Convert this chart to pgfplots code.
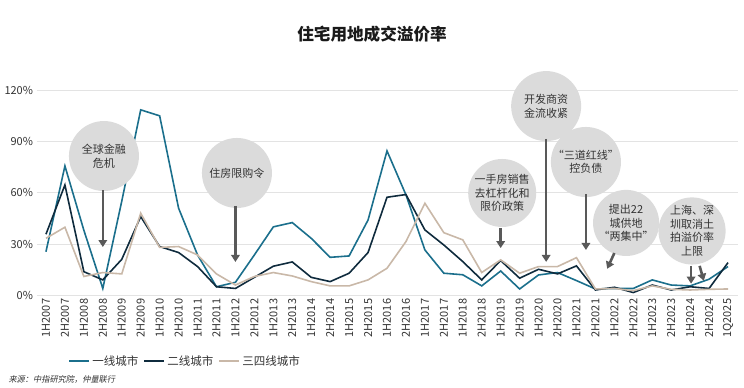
\documentclass[border=0pt]{standalone}
\usepackage{fontspec}
\setmainfont{Noto Sans CJK SC}
\newfontfamily\srcfont{Noto Sans CJK SC}[FakeSlant=0.2]
\usepackage{pgfplots}
\pgfplotsset{compat=1.18}
\usepackage{pgfplotstable}
\usetikzlibrary{arrows.meta}
\definecolor{tone}{HTML}{1B6F8C}
\definecolor{ttwo}{HTML}{0F2B3D}
\definecolor{tthree}{HTML}{C9B8A8}
\definecolor{bubble}{HTML}{DBDBDB}
\definecolor{arrowc}{HTML}{595959}
\definecolor{txt}{HTML}{333333}
\definecolor{gridc}{HTML}{E3E3E3}

\pgfplotstableread{
idx t1 t2 t3
0 25.5 35.7 33.3
1 75.6 64.5 39.8
2 38 13.8 11
3 4 9 13.3
4 55 21 12.5
5 108.4 46 48
6 104.9 28.5 28
7 50.9 25 28.5
8 23.6 16.8 23.6
9 5 5 12.5
10 7.6 4 6
11 23.6 10.5 11
12 40 17 13.3
13 42.5 19.5 11.3
14 33.3 10.5 8
15 22.2 8 5.5
16 23 12.9 5.5
17 44 25 9
18 84.4 57.3 15.8
19 58.7 58.9 31.4
20 26.5 38.2 53.8
21 12.9 29.4 36.6
22 12 19.7 32.4
23 5.5 9 13.3
24 14.2 20.3 20.7
25 3.7 10 12.9
26 11.9 15.2 16.8
27 13.3 12.5 16.8
28 8.6 17.2 22
29 3.7 3.1 3.7
30 4 4.7 4
31 4 1.6 2.7
32 9 6 5.5
33 6 3.1 3.5
34 5.5 5 3.1
35 9.4 4 3.5
36 16.8 19.1 3.7
}\datatable

\begin{document}
\begin{tikzpicture}
\useasboundingbox (0,0) rectangle (744pt,388pt);
\node[font=\fontsize{16.6}{18}\selectfont\bfseries, text=black!90] at (372pt,354pt) {住宅用地成交溢价率};
\node[anchor=west, font=\fontsize{8.2}{10}\srcfont, text=txt] at (5pt,9pt) {来源：中指研究院，仲量联行};
\begin{axis}[
  at={(36.5pt,92.7pt)}, anchor=south west,
  scale only axis, width=701pt, height=205.3pt,
  xmin=-0.5, xmax=36.5, ymin=0, ymax=120,
  clip=false,
  axis line style={draw=none},
  major tick style={draw=none},
  ymajorgrids, grid style={gridc, line width=0.8pt},
  ytick={0,30,60,90,120},
  yticklabel={\pgfmathprintnumber{\tick}\%},
  /pgf/number format/assume math mode=true,
  xtick={0,...,36},
  xticklabels={1H2007,2H2007,1H2008,2H2008,1H2009,2H2009,1H2010,2H2010,1H2011,2H2011,1H2012,2H2012,1H2013,2H2013,1H2014,2H2014,1H2015,2H2015,1H2016,2H2016,1H2017,2H2017,1H2018,2H2018,1H2019,2H2019,1H2020,2H2020,1H2021,2H2021,1H2022,2H2022,1H2023,2H2023,1H2024,2H2024,1Q2025},
  xticklabel style={rotate=90, anchor=east, font=\fontsize{11}{13}\selectfont, text=txt},
  yticklabel style={font=\fontsize{11}{13}\selectfont, text=txt},
  legend style={at={(0.212,-0.32)}, anchor=center, draw=none, fill=none,
    font=\fontsize{11.5}{13}\selectfont, text=txt,
    /tikz/every even column/.append style={column sep=3pt}},
  legend columns=3,
  legend image code/.code={\draw[#1, line width=2pt] (0pt,0pt) -- (20pt,0pt);},
]
\addplot[tone, line width=1.6pt] table[x=idx, y=t1] {\datatable};
\addlegendentry{一线城市}
\addplot[ttwo, line width=1.6pt] table[x=idx, y=t2] {\datatable};
\addlegendentry{二线城市}
\addplot[tthree, line width=1.6pt] table[x=idx, y=t3] {\datatable};
\addlegendentry{三四线城市}

\tikzset{bub/.style={circle, fill=bubble, inner sep=0pt, align=center, text=txt, font=\fontsize{11}{13.5}\selectfont},
  arr/.style={arrowc, line width=2.6pt, -{Triangle[length=7pt,width=8.5pt]}}}
\node[bub, minimum size=70pt] at (axis cs:3.06,81.4) {全球金融\\危机};
\draw[arr] (axis cs:3,61.5) -- (axis cs:3,28.2);
\node[bub, minimum size=70pt] at (axis cs:10.08,71.5) {住房限购令};
\draw[arr] (axis cs:10,52.2) -- (axis cs:10,19.5);
\node[bub, minimum size=68pt] at (axis cs:24.08,59.8) {一手房销售\\去杠杆化和\\限价政策};
\draw[arr] (axis cs:24,39.3) -- (axis cs:24,27.6);
\node[bub, minimum size=70pt] at (axis cs:26.4,110.6) {开发商资\\金流收紧};
\draw[arr] (axis cs:26.4,91.4) -- (axis cs:26.4,19.5);
\node[bub, minimum size=66pt] at (axis cs:28.5,77.9) {“三道红线”\\控负债};
\draw[arr] (axis cs:28.5,59.2) -- (axis cs:28.5,26.5);
\node[bub, minimum size=52pt] at (axis cs:30.62,42.3) {提出22\\城供地\\“两集中”};
\draw[arr] (axis cs:30.0,24.7) -- (axis cs:29.62,15.5);
\node[bub, minimum size=66pt] at (axis cs:34.1,37.6) {上海、深\\圳取消土\\拍溢价率\\上限};
\draw[arr] (axis cs:34.05,17.2) -- (axis cs:34.05,6.8);
\draw[arr] (axis cs:34.5,17.2) -- (axis cs:34.72,8.5);
\end{axis}
\end{tikzpicture}
\end{document}
